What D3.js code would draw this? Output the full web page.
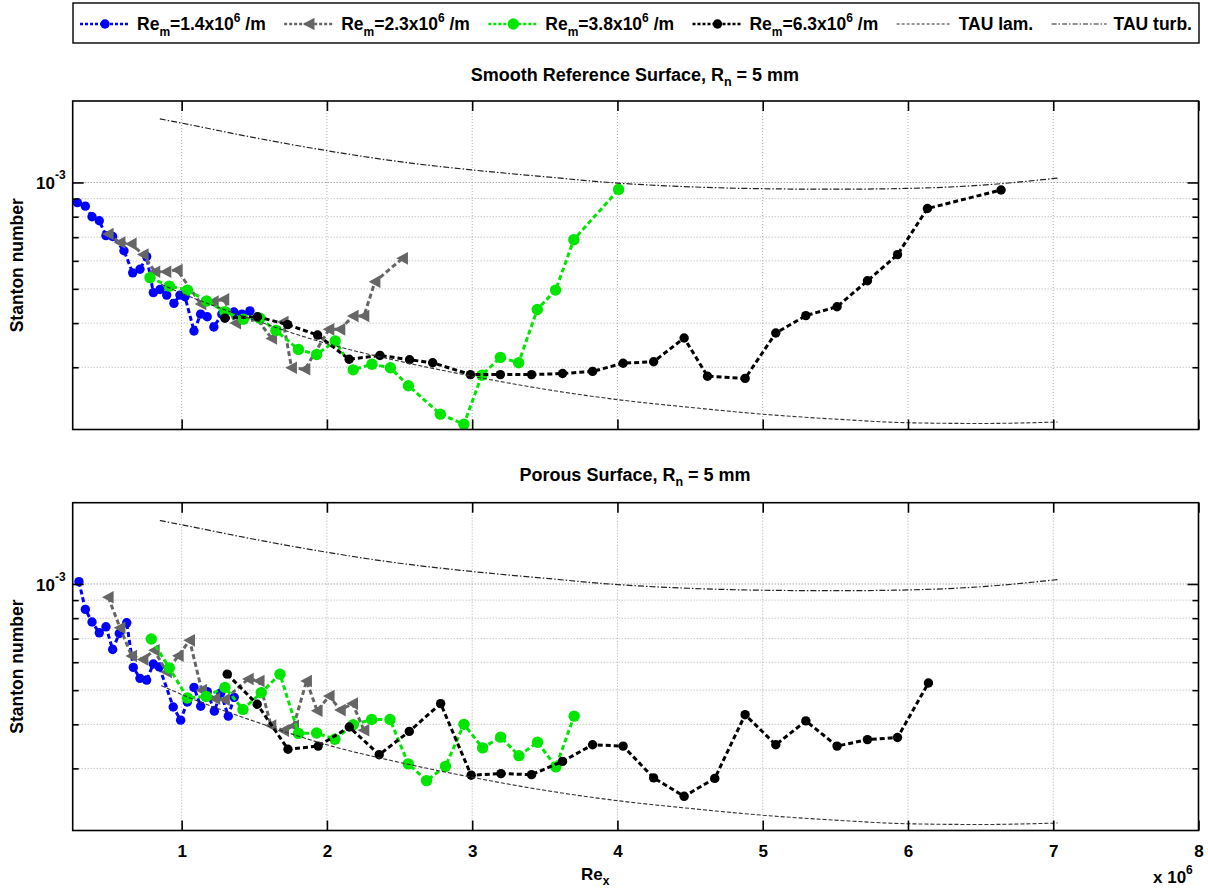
<!DOCTYPE html>
<html><head><meta charset="utf-8">
<script src="https://cdn.jsdelivr.net/npm/d3@7/dist/d3.min.js"></script>
<style>
body{margin:0;background:#fff}
text{font-family:"Liberation Sans",Arial,Helvetica,sans-serif;font-weight:bold;fill:#000}
</style>
</head><body>
<svg id="chart" width="1208" height="888"></svg>
<script>
// ---------- DATA (Re_x in units of 1e6, Stanton number in units of 1e-4) ----------
const xTickLabels = [1, 2, 3, 4, 5, 6, 7, 8];
const yMinorTicks = [2, 3, 4, 5, 6, 7, 8, 9];   // x 1e-4
const yMajorTicks = [10];                      // x 1e-4  (10^-3)

// Smooth reference surface
const smooth14X = [0.282,0.337,0.383,0.433,0.479,0.525,0.603,0.663,0.713,0.759,0.805,0.851,0.897,0.947,0.988,1.023,1.085,1.131,1.176,1.222,1.277,1.360,1.415,1.470];
const smooth14Y = [8.77,8.57,8.00,7.79,7.07,7.03,6.41,5.55,5.68,6.17,4.88,4.98,4.80,4.55,4.80,4.75,3.80,4.24,4.17,3.90,4.24,4.30,4.24,4.33];
const smooth23X = [0.495,0.576,0.653,0.736,0.816,0.892,0.970,1.133,1.218,1.291,1.372,1.520,1.620,1.699,1.757,1.849,2.014,2.090,2.181,2.255,2.331,2.521];
const smooth23Y = [7.15,6.76,6.70,6.25,5.59,5.59,5.65,4.53,4.60,4.67,4.00,4.10,3.62,4.03,2.99,2.96,3.84,3.84,4.19,4.19,5.24,6.10];
const smooth38X = [0.782,0.915,1.040,1.172,1.298,1.424,1.539,1.649,1.804,1.929,2.057,2.181,2.310,2.437,2.561,2.781,2.943,3.067,3.194,3.320,3.448,3.574,3.700,4.008];
const smooth38Y = [5.38,5.09,4.96,4.62,4.31,4.10,4.13,3.81,3.37,3.26,3.56,2.95,3.06,2.99,2.66,2.21,2.07,2.85,3.20,3.09,4.37,4.96,6.89,9.55];
const smooth63X = [1.298,1.522,1.730,1.936,2.153,2.365,2.569,2.728,2.988,3.194,3.409,3.622,3.829,4.039,4.249,4.459,4.620,4.879,5.090,5.297,5.512,5.721,5.928,6.134,6.641];
const smooth63Y = [4.13,4.17,3.96,3.70,3.16,3.24,3.15,3.09,2.86,2.86,2.86,2.88,2.92,3.08,3.11,3.63,2.83,2.79,3.75,4.20,4.45,5.27,6.25,8.44,9.52];

// Porous surface
const porous14X = [0.293,0.337,0.383,0.433,0.479,0.525,0.571,0.622,0.667,0.713,0.759,0.805,0.846,0.942,0.993,1.039,1.085,1.131,1.176,1.225,1.269,1.321,1.362];
const porous14Y = [10.15,8.47,7.80,7.27,7.56,6.52,7.24,7.76,5.80,5.40,5.34,5.93,5.82,4.48,4.11,4.63,5.09,4.50,4.95,4.36,4.91,4.22,4.77];
const porous23X = [0.495,0.576,0.656,0.734,0.812,0.896,0.977,1.055,1.138,1.229,1.295,1.459,1.534,1.615,1.702,1.771,1.860,1.933,2.016,2.093,2.177,2.255];
const porous23Y = [9.17,7.51,6.25,6.11,6.49,5.63,6.26,6.92,5.00,4.73,4.70,5.38,5.31,3.97,3.84,3.96,5.31,4.37,4.81,4.39,4.58,3.85];
const porous38X = [0.791,0.915,1.040,1.169,1.298,1.422,1.548,1.677,1.804,1.929,2.055,2.181,2.308,2.434,2.560,2.686,2.816,2.943,3.072,3.196,3.322,3.450,3.576,3.702];
const porous38Y = [6.98,5.78,4.75,4.80,5.09,4.41,4.92,5.55,3.77,3.78,3.63,3.99,4.13,4.13,3.09,2.77,3.04,4.00,3.43,3.68,3.26,3.56,3.03,4.22];
const porous63X = [1.314,1.520,1.732,1.940,2.154,2.360,2.567,2.783,2.993,3.198,3.409,3.622,3.829,4.039,4.249,4.459,4.670,4.879,5.090,5.297,5.512,5.721,5.928,6.141];
const porous63Y = [5.55,4.56,3.40,3.47,3.93,3.28,3.82,4.58,2.87,2.90,2.88,3.14,3.50,3.47,2.82,2.50,2.81,4.26,3.50,4.09,3.47,3.62,3.67,5.24];

// TAU computations (same in both panels)
const tauLamX  = [0.86,1.0,1.5,2.0,2.5,3.0,3.5,4.0,4.5,5.0,5.5,6.0,6.5,7.03];
const tauLamY  = [5.15,4.86,4.08,3.50,3.12,2.83,2.60,2.43,2.31,2.21,2.14,2.09,2.08,2.10];
const tauTurbX = [0.85,1.0,1.5,2.0,2.5,3.0,3.5,4.0,4.5,5.0,5.5,6.0,6.5,7.03];
const tauTurbY = [15.13,14.72,13.39,12.30,11.45,10.85,10.38,9.96,9.72,9.60,9.57,9.62,9.82,10.29];

const seriesNames = ["1.4", "2.3", "3.8", "6.3"];
const panelTitles = ["Smooth Reference Surface, R", "Porous Surface, R"];

// ---------- BUILD ----------
const FS = 17;
const svg = d3.select("#chart");
const zip = (xs, ys) => xs.map((v, i) => ({x: v, y: ys[i]}));

const seriesStyle = [
  {color: "#0000ff", marker: "circle", r: 4.7},
  {color: "#666666", marker: "triangle", r: 6.3},
  {color: "#00e600", marker: "circle", r: 5.7},
  {color: "#000000", marker: "circle", r: 4.7}
];

const panels = [
  {top: 101, bottom: 429.5, titleY: 81, title: panelTitles[0],
   series: [zip(smooth14X, smooth14Y), zip(smooth23X, smooth23Y), zip(smooth38X, smooth38Y), zip(smooth63X, smooth63Y)], xLabels: false},
  {top: 502.7, bottom: 830.5, titleY: 481, title: panelTitles[1],
   series: [zip(porous14X, porous14Y), zip(porous23X, porous23Y), zip(porous38X, porous38Y), zip(porous63X, porous63Y)], xLabels: true}
];

const L = 72.7, R = 1198.5;
const x = d3.scaleLinear().domain([0.25, 8]).range([L, R]);

function drawMarker(g, type, r, color, cx, cy) {
  if (type === "circle") {
    g.append("circle").attr("cx", cx).attr("cy", cy).attr("r", r).attr("fill", color);
  } else {
    g.append("path").attr("d", `M${-r},0L${r*0.85},${-r}L${r*0.85},${r}Z`)
      .attr("transform", `translate(${cx},${cy})`).attr("fill", color);
  }
}

panels.forEach((p, pi) => {
  const y = d3.scaleLog().domain([2, 17]).range([p.bottom, p.top]);
  const g = svg.append("g");

  // grid
  xTickLabels.forEach(t => {
    if (t >= 8) return;
    g.append("line").attr("x1", x(t)).attr("x2", x(t)).attr("y1", p.top).attr("y2", p.bottom)
      .attr("stroke", "#b0b0b0").attr("stroke-width", 1).attr("stroke-dasharray", "1,2");
  });
  yMinorTicks.concat(yMajorTicks).forEach(t => {
    if (t <= 2) return;
    g.append("line").attr("x1", L).attr("x2", R).attr("y1", y(t)).attr("y2", y(t))
      .attr("stroke", t === 10 ? "#808080" : "#b0b0b0").attr("stroke-width", 1).attr("stroke-dasharray", "1,2");
  });

  // data series
  const line = d3.line().x(d => x(d.x)).y(d => y(d.y));
  p.series.forEach((s, si) => {
    const st = seriesStyle[si];
    g.append("path").attr("d", line(s)).attr("fill", "none").attr("stroke", st.color)
      .attr("stroke-width", 3).attr("stroke-dasharray", "5,3");
    s.forEach(d => drawMarker(g, st.marker, st.r, st.color, x(d.x), y(d.y)));
  });

  // TAU lines
  const smooth = d3.line().x(d => x(d.x)).y(d => y(d.y)).curve(d3.curveMonotoneX);
  g.append("path").attr("d", smooth(zip(tauLamX, tauLamY))).attr("fill", "none")
    .attr("stroke", "#333").attr("stroke-width", 1.1).attr("stroke-dasharray", "4,2");
  g.append("path").attr("d", smooth(zip(tauTurbX, tauTurbY))).attr("fill", "none")
    .attr("stroke", "#222").attr("stroke-width", 1.2).attr("stroke-dasharray", "6,2,1.5,2");

  // frame
  g.append("rect").attr("x", L).attr("y", p.top).attr("width", R - L).attr("height", p.bottom - p.top)
    .attr("fill", "none").attr("stroke", "#000").attr("stroke-width", 1.6);

  // x ticks (inward, top and bottom)
  const xAxisB = d3.axisBottom(x).tickValues(xTickLabels).tickSize(-10).tickFormat(p.xLabels ? d3.format("d") : "").tickPadding(14);
  const xb = g.append("g").attr("transform", `translate(0,${p.bottom})`).call(xAxisB);
  const xAxisT = d3.axisTop(x).tickValues(xTickLabels).tickSize(-10).tickFormat("");
  const xt = g.append("g").attr("transform", `translate(0,${p.top})`).call(xAxisT);
  [xb, xt].forEach(a => {
    a.select(".domain").remove();
    a.selectAll(".tick line").attr("stroke", "#000").attr("stroke-width", 1.6);
    a.selectAll(".tick text").style("font-size", FS + "px").style("font-weight", "bold")
      .style("font-family", '"Liberation Sans",Arial,sans-serif').attr("fill", "#000");
  });

  // y ticks (inward, left and right)
  const yTickVals = yMinorTicks.concat(yMajorTicks).filter(t => t > 2);
  const al = g.append("g").attr("transform", `translate(${L},0)`).call(d3.axisLeft(y).tickValues(yTickVals).tickFormat(""));
  const ar = g.append("g").attr("transform", `translate(${R},0)`).call(d3.axisRight(y).tickValues(yTickVals).tickFormat(""));
  al.selectAll(".tick line").attr("x2", t => t === 10 ? 11 : 6);
  ar.selectAll(".tick line").attr("x2", t => t === 10 ? -11 : -6);
  [al, ar].forEach(a => {
    a.select(".domain").remove();
    a.selectAll(".tick line").attr("stroke", "#000").attr("stroke-width", 1.6);
  });

  // y major label 10^-3
  const yl = g.append("text").attr("x", 36).attr("y", y(10) + 7).style("font-size", FS + "px");
  yl.append("tspan").text("10");
  yl.append("tspan").attr("dy", -10).style("font-size", "12px").text("-3");

  // y axis title
  g.append("text").attr("transform", `translate(23,${(p.top + p.bottom) / 2}) rotate(-90)`)
    .attr("text-anchor", "middle").style("font-size", "17.5px").text("Stanton number");

  // panel title
  const tt = g.append("text").attr("x", 635).attr("y", p.titleY).attr("text-anchor", "middle").style("font-size", "18px");
  tt.append("tspan").text(p.title);
  tt.append("tspan").attr("dy", 5).style("font-size", "12.5px").text("n");
  tt.append("tspan").attr("dy", -5).text(" = 5 mm");
});

// x axis title
const xl = svg.append("text").attr("x", 581).attr("y", 880).style("font-size", FS + "px");
xl.append("tspan").text("Re");
xl.append("tspan").attr("dy", 5).style("font-size", "12px").text("x");
const xm = svg.append("text").attr("x", 1153).attr("y", 883).style("font-size", FS + "px");
xm.append("tspan").text("x 10");
xm.append("tspan").attr("dy", -9).style("font-size", "12px").text("6");

// ---------- LEGEND ----------
const lg = svg.append("g");
lg.append("rect").attr("x", 73).attr("y", 3).attr("width", 1126).attr("height", 40)
  .attr("fill", "#fff").attr("stroke", "#000").attr("stroke-width", 1.4);
const legendY = 24;
const LFS = 17.5;
const items = [];
seriesNames.forEach((nm, i) => {
  const st = seriesStyle[i];
  const ln = lg.append("line").attr("y1", legendY).attr("y2", legendY)
    .attr("stroke", st.color).attr("stroke-width", 2.5).attr("stroke-dasharray", "3,2");
  const mk = lg.append("g");
  drawMarker(mk, st.marker, st.marker === "triangle" ? 6.3 : st.r, st.color, 0, legendY);
  const t = lg.append("text").attr("y", legendY + 6).style("font-size", LFS + "px");
  t.append("tspan").text("Re");
  t.append("tspan").attr("dy", 6).style("font-size", "12px").text("m");
  t.append("tspan").attr("dy", -6).text("=" + nm + "x10");
  t.append("tspan").attr("dy", -8).style("font-size", "12px").text("6");
  t.append("tspan").attr("dy", 8).text(" /m");
  items.push({ln, mk, t, len: 50});
});
[["TAU lam.", "3,2", 1.1, "#333"], ["TAU turb.", "5,2,1.5,2", 1.2, "#222"]].forEach(([lab, dash, sw, col]) => {
  const ln = lg.append("line").attr("y1", legendY).attr("y2", legendY)
    .attr("stroke", col).attr("stroke-width", sw).attr("stroke-dasharray", dash);
  const t = lg.append("text").attr("y", legendY + 6).style("font-size", LFS + "px").text(lab);
  items.push({ln, mk: null, t, len: 55});
});
const startX = 80, endX = 1192, gapT = 7;
const widths = items.map(it => it.t.node().getBBox().width);
const used = d3.sum(items, (it, i) => it.len + gapT + widths[i]);
const gap = (endX - startX - used) / (items.length - 1);
let cx = startX;
items.forEach((it, i) => {
  it.ln.attr("x1", cx).attr("x2", cx + it.len);
  if (it.mk) it.mk.attr("transform", `translate(${cx + it.len / 2},0)`);
  it.t.attr("x", cx + it.len + gapT);
  cx += it.len + gapT + widths[i] + gap;
});
</script>
</body></html>
